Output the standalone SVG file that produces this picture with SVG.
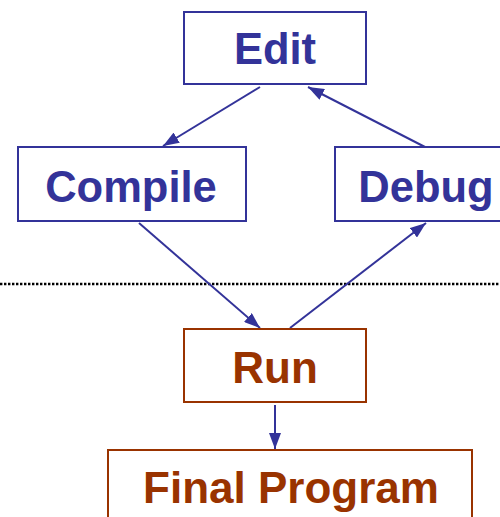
<svg xmlns="http://www.w3.org/2000/svg" width="500" height="517" viewBox="0 0 500 517">
<defs>
<marker id="a" viewBox="0 0 16 12" refX="16" refY="6" markerWidth="16" markerHeight="12" markerUnits="userSpaceOnUse" orient="auto">
<path d="M0,0 L16,6 L0,12 Z" fill="#333399"/>
</marker>
</defs>
<style>
.bb{fill:#fff;stroke:#333399;stroke-width:2}
.br{fill:#fff;stroke:#993300;stroke-width:2}
.tb{font-family:"Liberation Sans",Arial,sans-serif;font-weight:bold;font-size:43.5px;fill:#333399;text-anchor:middle}
.tr{font-family:"Liberation Sans",Arial,sans-serif;font-weight:bold;font-size:44px;fill:#993300;text-anchor:middle}
.c{stroke:#333399;stroke-width:2;fill:none;marker-end:url(#a)}
</style>
<line x1="0" y1="284" x2="500" y2="284" stroke="#000" stroke-width="2.6" stroke-dasharray="2.4 1.6"/>
<g id="connectors">
<line class="c" x1="260" y1="87" x2="163" y2="146"/>
<line class="c" x1="425" y1="147" x2="308" y2="87"/>
<line class="c" x1="139" y1="223" x2="260" y2="328"/>
<line class="c" x1="290" y1="328" x2="426" y2="223"/>
<line class="c" x1="275" y1="405" x2="275" y2="449"/>
</g>
<g id="edit">
<rect class="bb" x="184" y="12" width="182" height="72"/>
<text class="tb" x="275" y="64">Edit</text>
</g>
<g id="compile">
<rect class="bb" x="18" y="147" width="228" height="74"/>
<text class="tb" x="131" y="202">Compile</text>
</g>
<g id="debug">
<rect class="bb" x="335" y="147" width="182" height="74"/>
<text class="tb" x="426" y="202">Debug</text>
</g>
<g id="run">
<rect class="br" x="184" y="329" width="182" height="73"/>
<text class="tr" x="275" y="383">Run</text>
</g>
<g id="final">
<rect class="br" x="108" y="450" width="364" height="80"/>
<text class="tr" x="291" y="503">Final Program</text>
</g>
</svg>
